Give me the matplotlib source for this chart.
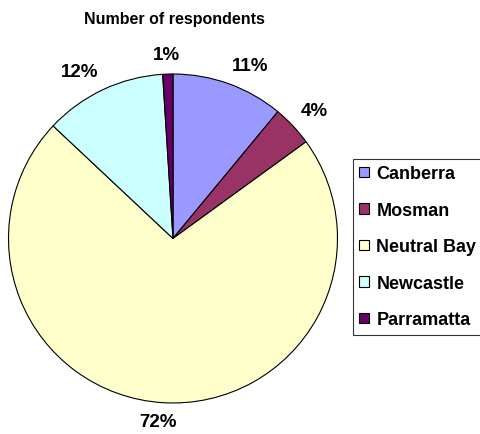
import numpy as np
import matplotlib
matplotlib.use("Agg")
import matplotlib.pyplot as plt

plt.rcParams['font.family'] = ['Liberation Sans', 'DejaVu Sans']
plt.rcParams['font.weight'] = 'bold'

# respondents by location (percent)
locations = ["Canberra", "Mosman", "Neutral Bay", "Newcastle", "Parramatta"]
shares = [11, 4, 72, 12, 1]
colors = ["#9999FF", "#993366", "#FFFFCC", "#CCFFFF", "#660066"]

fig = plt.figure(figsize=(4.8, 4.35), dpi=100)
ax = fig.add_axes([0.0177, 0.0713, 0.6854, 0.7563])

wedges, _ = ax.pie(shares, colors=colors, startangle=90, counterclock=False,
                   radius=1.0,
                   wedgeprops=dict(edgecolor="black", linewidth=0.8))
ax.set_xlim(-1, 1)
ax.set_ylim(-1, 1)
ax.set_aspect("equal")
ax.axis("off")

# percentage labels sit just outside the rim, pushed out by their own size
fig.canvas.draw()
renderer = fig.canvas.get_renderer()
inv = ax.transData.inverted()
gap = 1.065
for w, val in zip(wedges, shares):
    mid = np.deg2rad((w.theta1 + w.theta2) / 2)
    sx, cy = np.cos(mid), np.sin(mid)
    t = ax.text(0, 0, "%d%%" % val, ha="center", va="center",
                fontsize=13.5, fontweight="bold")
    bb = t.get_window_extent(renderer)
    p0 = inv.transform((0, 0))
    p1 = inv.transform((bb.width, bb.height))
    tw, th = p1 - p0
    dx = tw / 2 * np.clip(sx * 3, -1, 1)
    dy = th / 2 * np.clip(cy * 3, -1, 1)
    t.set_position((gap * sx + dx, gap * cy + dy))

fig.text(0.3625, 0.955, "Number of respondents", ha="center", va="center",
         fontsize=11.5, fontweight="bold")

leg = fig.legend(wedges, locations, loc="upper left",
                 bbox_to_anchor=(0.735, 0.632), frameon=True, fancybox=False,
                 edgecolor="black", fontsize=13, handlelength=0.55,
                 handleheight=0.55, labelspacing=1.08, borderpad=0.35,
                 handletextpad=0.4, borderaxespad=0)
leg.get_frame().set_linewidth(0.8)
for t in leg.get_texts():
    t.set_fontweight("bold")

fig.savefig("out.png", dpi=100)
